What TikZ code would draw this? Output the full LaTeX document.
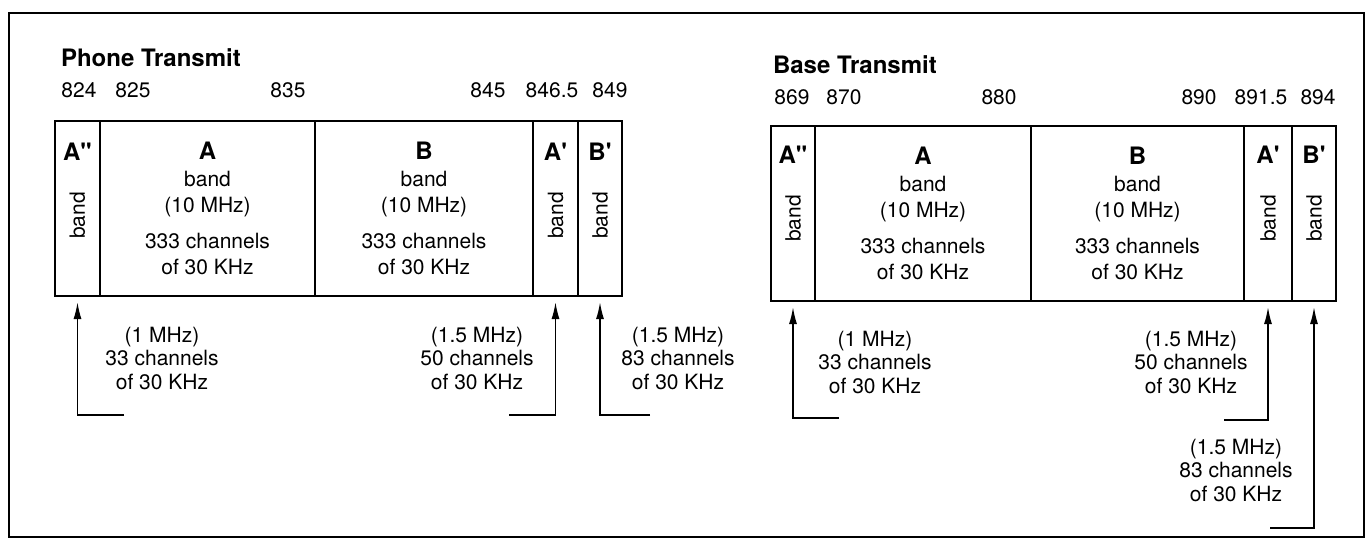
\documentclass[tikz,border=0pt]{standalone}
\usepackage{fontspec}
\setmainfont{TeX Gyre Heros}
\usetikzlibrary{arrows.meta}

\begin{document}
\begin{tikzpicture}[x=1pt,y=-1pt,
  every node/.style={outer sep=0pt, font=\fontsize{21}{26.5}\selectfont},
  band/.style={draw, line width=2pt, minimum height=175pt, inner sep=0pt, align=center, anchor=north west},
  title/.style={anchor=west, inner sep=0pt, font=\fontsize{24}{28}\selectfont\bfseries},
  freq/.style={inner sep=0pt},
  tag/.style={inner sep=0pt, font=\fontsize{24}{28}\selectfont\bfseries},
  side/.style={inner sep=0pt, rotate=90},
  note/.style={inner sep=0pt, align=center, font=\fontsize{21}{23.5}\selectfont},
  feed/.style={line width=1.6pt, -{Latex[length=17pt,width=8pt]}, shorten >=6pt}]
\useasboundingbox (0,0) rectangle (1367,539);
\draw[line width=2.5pt] (9,13) rectangle (1364,537);
% phone side
\node[title] (ptitle) at (61,58) {Phone Transmit};
\node[freq] (n824) at (79,90) {824};
\node[freq] (n825) at (133,90) {825};
\node[freq] (n835) at (288,90) {835};
\node[freq] (n845) at (488,90) {845};
\node[freq] (n8465) at (552,90) {846.5};
\node[freq] (n849) at (610,90) {849};
\node[band, minimum width=45pt] (pAdd) at (55,121) {};
\node[band, minimum width=215pt] (pA) at (100,121) {{\fontsize{24}{28}\selectfont\bfseries A}\\band\\(10 MHz)\\[9pt]333 channels\\of 30 KHz};
\node[band, minimum width=218pt] (pB) at (315,121) {{\fontsize{24}{28}\selectfont\bfseries B}\\band\\(10 MHz)\\[9pt]333 channels\\of 30 KHz};
\node[band, minimum width=45pt] (pAp) at (533,121) {};
\node[band, minimum width=44pt] (pBp) at (578,121) {};
\node[tag] (pAddt) at ([yshift=-31pt]pAdd.north) {A\textquotedbl};
\node[tag] (pApt) at ([yshift=-31pt]pAp.north) {A\textquotesingle};
\node[tag] (pBpt) at ([yshift=-31pt]pBp.north) {B\textquotesingle};
\node[side] (pAdds) at ([yshift=-7pt]pAdd.center) {band};
\node[side] (pAps) at ([yshift=-7pt]pAp.center) {band};
\node[side] (pBps) at ([yshift=-7pt]pBp.center) {band};
\node[note] (pAddn) at (162,358) {(1 MHz)\\33 channels\\of 30 KHz};
\node[note] (pApn) at (477,358) {(1.5 MHz)\\50 channels\\of 30 KHz};
\node[note] (pBpn) at (678,358) {(1.5 MHz)\\83 channels\\of 30 KHz};
\coordinate (pAddf) at (124,415);
\coordinate (pApf) at (509,415);
\coordinate (pBpf) at (650,415);
\draw[feed] (pAddf) -| (pAdd.south);
\draw[feed] (pApf) -| (pAp.south);
\draw[feed] (pBpf) -| (pBp.south);
% base side
\node[title] (btitle) at (773,65) {Base Transmit};
\node[freq] (n869) at (792,97) {869};
\node[freq] (n870) at (844,97) {870};
\node[freq] (n880) at (999,97) {880};
\node[freq] (n890) at (1199,97) {890};
\node[freq] (n8915) at (1261,97) {891.5};
\node[freq] (n894) at (1318,97) {894};
\node[band, minimum width=44pt] (rAdd) at (771,126) {};
\node[band, minimum width=216pt] (rA) at (815,126) {{\fontsize{24}{28}\selectfont\bfseries A}\\band\\(10 MHz)\\[9pt]333 channels\\of 30 KHz};
\node[band, minimum width=213pt] (rB) at (1031,126) {{\fontsize{24}{28}\selectfont\bfseries B}\\band\\(10 MHz)\\[9pt]333 channels\\of 30 KHz};
\node[band, minimum width=48pt] (rAp) at (1244,126) {};
\node[band, minimum width=44pt] (rBp) at (1292,126) {};
\node[tag] (rAddt) at ([yshift=-29pt]rAdd.north) {A\textquotedbl};
\node[tag] (rApt) at ([yshift=-29pt]rAp.north) {A\textquotesingle};
\node[tag] (rBpt) at ([yshift=-29pt]rBp.north) {B\textquotesingle};
\node[side] (rAdds) at ([yshift=-5pt]rAdd.center) {band};
\node[side] (rAps) at ([yshift=-5pt]rAp.center) {band};
\node[side] (rBps) at ([yshift=-5pt]rBp.center) {band};
\node[note] (rAddn) at (875,362) {(1 MHz)\\33 channels\\of 30 KHz};
\node[note] (rApn) at (1191,362) {(1.5 MHz)\\50 channels\\of 30 KHz};
\node[note] (rBpn) at (1236,470) {(1.5 MHz)\\83 channels\\of 30 KHz};
\coordinate (rAddf) at (839,418);
\coordinate (rApf) at (1224,420);
\coordinate (rBpf) at (1270,528);
\draw[feed] (rAddf) -| (rAdd.south);
\draw[feed] (rApf) -| (rAp.south);
\draw[feed] (rBpf) -| (rBp.south);
\end{tikzpicture}
\end{document}
